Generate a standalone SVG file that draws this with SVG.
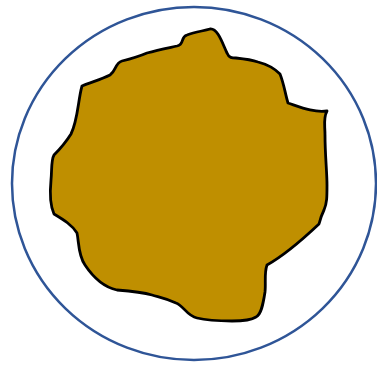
<svg xmlns="http://www.w3.org/2000/svg" width="377" height="365" viewBox="0 0 377 365">
<style>
.ring{fill:none;stroke:#2F5597;stroke-width:2.5}
.blob{fill:#BF8F00;stroke:#000;stroke-width:2.8;stroke-linejoin:round}
</style>
<rect width="377" height="365" fill="#fff"/>
<g id="circle"><ellipse class="ring" cx="194" cy="183.5" rx="182" ry="176.5"/></g>
<g id="blob">
<path class="blob" d="M82,86 C92,82 102,79 110,75 C116,71 115,63 122,61 C130,59 140,56 147,53 C158,50 168,48 177,46 C185,44 180,37 187,35 C195,32 203,31 210,29 C218,28 223,45 227,53 C229,58 232,58 236,58 C245,59 252,60 258,62 C266,64 274,68 280,74 C284,84 285,93 288,103 C300,107 314,113 327,111 C323,118 325,125 325,135 C325,155 327,172 327,185 C327,197 327,203 324,210 C321,216 320,220 319,224 C302,240 285,255 267,265 C264,273 266,283 265,292 C263,305 261,315 256,317 C250,321 240,321 232,321 C220,321 205,320 197,318 C187,316 183,305 176,303 C165,298 158,297 152,295 C142,292 130,291 117,290 C103,287 93,277 85,265 C78,255 79,242 77,233 C72,225 64,220 54,214 C50,205 50,190 51,180 C52,170 51,160 54,155 C61,148 66,142 71,134 C78,120 78,100 82,86 Z"/>
</g>
</svg>
